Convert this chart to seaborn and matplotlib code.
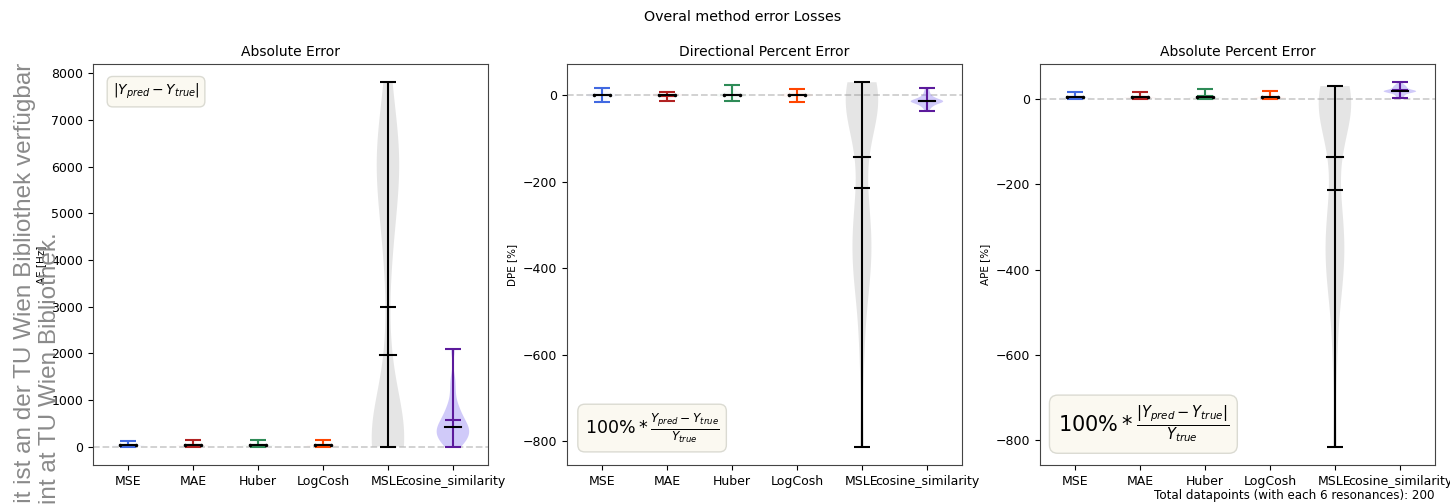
import numpy as np
import pandas as pd
import matplotlib
matplotlib.use("Agg")
import matplotlib.pyplot as plt
import seaborn as sns

methods = ["MSE", "MAE", "Huber", "LogCosh", "MSLE", "cosine_similarity"]
line_colors = ["royalblue", "firebrick", "seagreen", "orangered", "black", "#5c1a9c"]
fill_colors = ["royalblue", "firebrick", "seagreen", "orangered", "gray", "mediumslateblue"]
fill_alpha = [0.04, 0.04, 0.04, 0.04, 0.2, 0.35]
median_dots = [True, True, True, True, False, False]

# ---- Absolute Error [Hz] samples ----
ae_mse = [3, 8, 12, 16, 20, 24, 28, 30, 34, 40, 48, 58, 70, 88, 122]
ae_mae = [2, 6, 10, 14, 18, 22, 26, 30, 35, 42, 52, 64, 80, 105, 145]
ae_huber = [2, 7, 11, 15, 19, 23, 27, 31, 36, 43, 53, 66, 84, 110, 148]
ae_logcosh = [3, 7, 11, 15, 19, 23, 27, 30, 35, 41, 50, 62, 78, 102, 143]
ae_msle = [5, 20, 40, 60, 90, 130, 180, 250, 350, 500, 1960,
           4100, 4700, 5305, 5700, 5950, 6150, 6350, 6550, 6800, 7810]
ae_cosine = [0, 60, 110, 160, 200, 240, 280, 320, 360, 400, 429,
             470, 520, 580, 650, 730, 820, 940, 1200, 1453, 2090]

# ---- Directional Percent Error [%] samples ----
dpe_mse = [-15, -10, -7, -5, -3, -2, -1, 0, 1, 2, 3, 5, 8, 12, 17]
dpe_mae = [-14, -9, -6, -4, -3, -2, -1, 0, 1, 1.5, 2, 3, 4, 6, 8]
dpe_huber = [-14, -9, -6, -4, -2, -1, -0.5, 0, 1, 2, 4, 6, 9, 14, 23]
dpe_logcosh = [-16, -10, -7, -5, -3, -2, -1, 0, 1, 2, 3, 5, 7, 10, 15]
dpe_msle = [30, 22, 15, 8, 2, -5, -14, -25, -45, -75, -144,
            -240, -280, -310, -340, -370, -400, -430, -480, -600, -813]
dpe_cosine = [-37, -30, -26, -23, -21, -19, -17, -16, -15, -14.5, -14,
              -13, -12, -11, -9, -7, -5, -2, 3, 9, 17]

# ---- Absolute Percent Error [%] samples ----
ape_mse = [0, 0.5, 1, 1.5, 2, 2.5, 3, 3.5, 4, 5, 6, 7.5, 9, 12, 17]
ape_mae = [0, 0.5, 1, 1.5, 2, 2.5, 3, 3.5, 4, 4.5, 5.5, 7, 8.5, 11, 15]
ape_huber = [0, 0.5, 1, 1.5, 2, 2.5, 3, 4, 5, 6, 7.5, 9, 12, 16, 23]
ape_logcosh = [0, 0.5, 1, 1.5, 2, 2.5, 3, 3.5, 4.5, 5.5, 6.5, 8, 10, 13, 19]
ape_msle = [30, 22, 15, 9, 3, -4, -12, -24, -42, -70, -135,
            -240, -280, -310, -340, -370, -400, -430, -480, -600, -815]
ape_cosine = [2, 6, 9, 12, 14, 15, 16, 17, 17.5, 18, 18.5,
              19, 20, 21, 23, 25, 27, 29, 31, 34, 39]

panels = [
    ("Absolute Error", "AE [Hz]", [ae_mse, ae_mae, ae_huber, ae_logcosh, ae_msle, ae_cosine]),
    ("Directional Percent Error", "DPE [%]", [dpe_mse, dpe_mae, dpe_huber, dpe_logcosh, dpe_msle, dpe_cosine]),
    ("Absolute Percent Error", "APE [%]", [ape_mse, ape_mae, ape_huber, ape_logcosh, ape_msle, ape_cosine]),
]
formulas = [
    (r"$|Y_{pred} - Y_{true}|$", 10, "upper"),
    (r"$100\% * \frac{Y_{pred} - Y_{true}}{Y_{true}}$", 12.5, "lower"),
    (r"$100\% * \frac{|Y_{pred} - Y_{true}|}{Y_{true}}$", 15, "lower"),
]

W, H = 1450, 504
fig = plt.figure(figsize=(W / 100, H / 100), dpi=100)
lefts = [93, 567, 1040]
axes = [fig.add_axes([l / W, (H - 465) / H, 395 / W, 401 / H]) for l in lefts]

for ax, (title, ylabel, series), (ftxt, fsz, floc) in zip(axes, panels, formulas):
    df = pd.DataFrame({
        "method": np.repeat(methods, [len(s) for s in series]),
        "value": np.concatenate([np.asarray(s, float) for s in series]),
    })
    ax.axhline(0, color="#cfcfcf", ls="--", lw=1.3, zorder=0)
    sns.violinplot(data=df, x="method", y="value", order=methods, hue="method",
                   hue_order=methods, palette=fill_colors, legend=False,
                   inner=None, cut=0, density_norm="width", width=0.5,
                   linewidth=0, bw_adjust=0.6, saturation=1, ax=ax)
    for coll in ax.collections:
        paths = coll.get_paths()
        if not paths:
            continue
        xc = paths[0].vertices[:, 0].mean()
        k = int(round(xc))
        if 0 <= k < len(methods):
            coll.set_facecolor(fill_colors[k])
            coll.set_alpha(fill_alpha[k])
            coll.set_edgecolor("none")
    for i, s in enumerate(series):
        a = np.asarray(s, float)
        c = line_colors[i]
        mn, mx, mean, med = a.min(), a.max(), a.mean(), np.median(a)
        ax.vlines(i, mn, mx, color=c, lw=1.5, zorder=3)
        ax.hlines([mn, mx, mean], i - 0.125, i + 0.125, color=c, lw=1.5, zorder=3)
        ax.plot([i - 0.125, i + 0.125], [med, med], color="black", lw=1.5,
                marker="." if median_dots[i] else None, ms=3, zorder=4)
    ax.set_xlim(-0.54, 5.54)
    ax.set_title(title, fontsize=10)
    ax.set_xlabel("")
    ax.set_ylabel(ylabel, fontsize=7.5)
    ax.tick_params(labelsize=9)
    for sp in ax.spines.values():
        sp.set_color("#444444")
    box = dict(boxstyle="round,pad=0.4", facecolor="#fbf9f1", edgecolor="#d9d9d0", alpha=0.95)
    if floc == "upper":
        ax.text(0.05, 0.955, ftxt, transform=ax.transAxes, fontsize=fsz,
                ha="left", va="top", bbox=box, zorder=5)
    else:
        ax.text(0.045, 0.05, ftxt, transform=ax.transAxes, fontsize=fsz,
                ha="left", va="bottom", bbox=box, zorder=5)

fig.text(0.512, 1 - 17 / H, "Overal method error Losses", ha="center", va="center", fontsize=10.3)
fig.text(1434 / W, 2 / H, "Total datapoints (with each 6 resonances): 200",
         ha="right", va="bottom", fontsize=8.6)

# watermark on the left edge (partially cut off by the page)
fig.text(25 / W, 1 - 63 / H,
         "Die approbierte gedruckte Originalversion dieser Diplomarbeit ist an der TU Wien Bibliothek verfügbar",
         rotation=90, rotation_mode="anchor", ha="right", va="center",
         fontsize=17.5, color="#8a8a8a", family="Liberation Sans")
fig.text(50 / W, 1 - 232 / H,
         "The approved original version of this thesis is available in print at TU Wien Bibliothek.",
         rotation=90, rotation_mode="anchor", ha="right", va="center",
         fontsize=17.5, color="#8a8a8a", family="Liberation Sans")

fig.savefig("out.png", dpi=100)
